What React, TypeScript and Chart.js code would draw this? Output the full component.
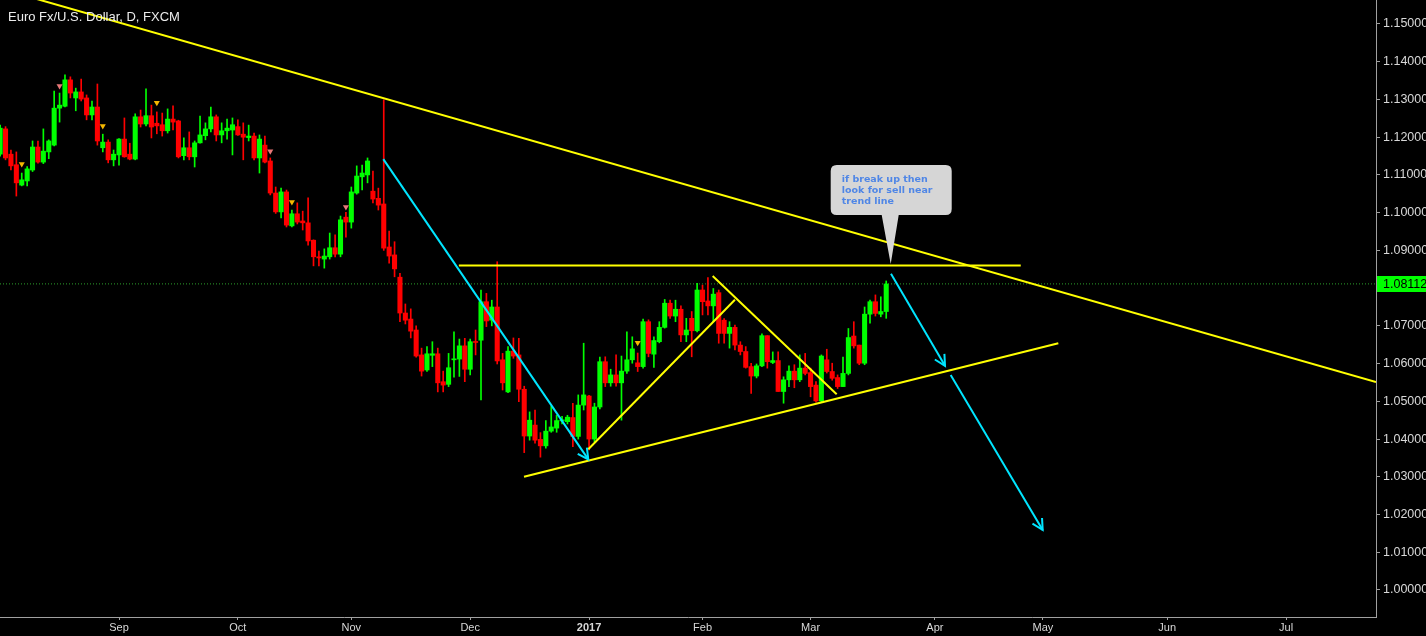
import React, { useEffect, useRef } from 'react';
import { Chart, registerables } from 'chart.js';

Chart.register(...registerables);

// ---- Data (daily EUR/USD candles, index = trading-day position; bar 0 = 1 Aug 2016) ----
const FIRST_BAR = 1;
const OPEN = [
  1.1155, 1.1222, 1.1155, 1.1127, 1.1073, 1.1084, 1.1113, 1.1174, 1.1134, 1.1161,
  1.1179, 1.1277, 1.1282, 1.1352, 1.1304, 1.1320, 1.1304, 1.1259, 1.1280, 1.1172,
  1.1187, 1.1140, 1.1153, 1.1195, 1.1155, 1.1142, 1.1254, 1.1235, 1.1257, 1.1237,
  1.1233, 1.1217, 1.1248, 1.1243, 1.1151, 1.1172, 1.1148, 1.1185, 1.1204, 1.1222,
  1.1254, 1.1206, 1.1217, 1.1219, 1.1228, 1.1208, 1.1199, 1.1203, 1.1145, 1.1179,
  1.1137, 1.1052, 1.1002, 1.1055, 1.0965, 1.0997, 1.0978, 1.0973, 1.0927, 1.0883,
  1.0877, 1.0883, 1.0907, 1.0890, 1.0988, 1.0975, 1.1052, 1.1095, 1.1100, 1.1057,
  1.1038, 1.1023, 1.0909, 1.0888, 1.0829, 1.0734, 1.0718, 1.0689, 1.0623, 1.0583,
  1.0622, 1.0626, 1.0552, 1.0545, 1.0610, 1.0612, 1.0647, 1.0585, 1.0658, 1.0662,
  1.0764, 1.0715, 1.0750, 1.0610, 1.0525, 1.0633, 1.0623, 1.0532, 1.0408, 1.0437,
  1.0399, 1.0382, 1.0421, 1.0429, 1.0448, 1.0446, 1.0457, 1.0407, 1.0490, 1.0514,
  1.0400, 1.0485, 1.0605, 1.0549, 1.0570, 1.0549, 1.0580, 1.0610, 1.0602, 1.0592,
  1.0711, 1.0625, 1.0658, 1.0696, 1.0760, 1.0726, 1.0744, 1.0676, 1.0720, 1.0687,
  1.0795, 1.0766, 1.0753, 1.0788, 1.0715, 1.0680, 1.0696, 1.0649, 1.0632, 1.0592,
  1.0567, 1.0594, 1.0674, 1.0603, 1.0608, 1.0526, 1.0557, 1.0580, 1.0557, 1.0588,
  1.0576, 1.0543, 1.0501, 1.0610, 1.0579, 1.0563, 1.0539, 1.0574, 1.0673, 1.0649,
  1.0601, 1.0731, 1.0764, 1.0731, 1.0738,
];
const HIGH = [
  1.1232, 1.1228, 1.1166, 1.1161, 1.1105, 1.1122, 1.1190, 1.1190, 1.1222, 1.1193,
  1.1322, 1.1317, 1.1365, 1.1360, 1.1330, 1.1354, 1.1312, 1.1296, 1.1341, 1.1208,
  1.1193, 1.1166, 1.1196, 1.1251, 1.1184, 1.1262, 1.1272, 1.1328, 1.1285, 1.1267,
  1.1264, 1.1275, 1.1283, 1.1245, 1.1198, 1.1214, 1.1190, 1.1256, 1.1238, 1.1280,
  1.1259, 1.1238, 1.1248, 1.1251, 1.1246, 1.1238, 1.1232, 1.1211, 1.1206, 1.1203,
  1.1145, 1.1068, 1.1065, 1.1060, 1.1007, 1.1026, 1.1004, 1.1039, 1.0928, 1.0898,
  1.0904, 1.0946, 1.0941, 1.0991, 1.1001, 1.1068, 1.1124, 1.1126, 1.1145, 1.1110,
  1.1065, 1.1299, 1.0951, 1.0923, 1.0839, 1.0758, 1.0745, 1.0700, 1.0641, 1.0645,
  1.0658, 1.0641, 1.0580, 1.0627, 1.0684, 1.0665, 1.0667, 1.0665, 1.0689, 1.0795,
  1.0786, 1.0768, 1.0870, 1.0627, 1.0645, 1.0668, 1.0667, 1.0540, 1.0472, 1.0477,
  1.0417, 1.0449, 1.0487, 1.0463, 1.0460, 1.0463, 1.0495, 1.0517, 1.0654, 1.0516,
  1.0495, 1.0617, 1.0618, 1.0585, 1.0623, 1.0620, 1.0684, 1.0671, 1.0628, 1.0718,
  1.0716, 1.0671, 1.0711, 1.0770, 1.0768, 1.0768, 1.0753, 1.0720, 1.0738, 1.0813,
  1.0808, 1.0828, 1.0799, 1.0795, 1.0719, 1.0711, 1.0702, 1.0658, 1.0645, 1.0601,
  1.0599, 1.0679, 1.0674, 1.0631, 1.0631, 1.0565, 1.0594, 1.0597, 1.0623, 1.0627,
  1.0588, 1.0552, 1.0623, 1.0638, 1.0601, 1.0570, 1.0617, 1.0693, 1.0711, 1.0649,
  1.0750, 1.0768, 1.0782, 1.0777, 1.0819,
];
const LOW = [
  1.1150, 1.1140, 1.1113, 1.1044, 1.1071, 1.1071, 1.1109, 1.1131, 1.1130, 1.1143,
  1.1177, 1.1240, 1.1280, 1.1304, 1.1270, 1.1296, 1.1246, 1.1246, 1.1179, 1.1161,
  1.1132, 1.1124, 1.1126, 1.1147, 1.1140, 1.1140, 1.1227, 1.1230, 1.1198, 1.1209,
  1.1203, 1.1211, 1.1219, 1.1145, 1.1140, 1.1140, 1.1121, 1.1184, 1.1193, 1.1214,
  1.1190, 1.1185, 1.1195, 1.1153, 1.1205, 1.1140, 1.1190, 1.1140, 1.1105, 1.1132,
  1.1047, 1.0998, 1.0986, 1.0962, 1.0962, 1.0970, 1.0954, 1.0914, 1.0859, 1.0859,
  1.0853, 1.0877, 1.0883, 1.0883, 1.0935, 1.0959, 1.1049, 1.1060, 1.1079, 1.1026,
  1.1007, 1.0900, 1.0866, 1.0830, 1.0711, 1.0705, 1.0668, 1.0617, 1.0567, 1.0579,
  1.0592, 1.0525, 1.0525, 1.0539, 1.0564, 1.0566, 1.0552, 1.0570, 1.0623, 1.0504,
  1.0698, 1.0700, 1.0599, 1.0530, 1.0523, 1.0614, 1.0499, 1.0364, 1.0397, 1.0389,
  1.0352, 1.0376, 1.0418, 1.0418, 1.0440, 1.0440, 1.0380, 1.0400, 1.0477, 1.0371,
  1.0393, 1.0480, 1.0539, 1.0540, 1.0540, 1.0450, 1.0574, 1.0601, 1.0579, 1.0588,
  1.0618, 1.0590, 1.0655, 1.0694, 1.0720, 1.0711, 1.0658, 1.0658, 1.0618, 1.0684,
  1.0729, 1.0729, 1.0711, 1.0654, 1.0654, 1.0641, 1.0636, 1.0623, 1.0588, 1.0521,
  1.0562, 1.0592, 1.0588, 1.0600, 1.0526, 1.0495, 1.0539, 1.0536, 1.0552, 1.0570,
  1.0512, 1.0498, 1.0498, 1.0575, 1.0556, 1.0534, 1.0539, 1.0570, 1.0641, 1.0597,
  1.0597, 1.0707, 1.0726, 1.0724, 1.0720,
];
const CLOSE = [
  1.1224, 1.1145, 1.1124, 1.1079, 1.1087, 1.1116, 1.1174, 1.1134, 1.1163, 1.1190,
  1.1277, 1.1285, 1.1352, 1.1317, 1.1320, 1.1301, 1.1259, 1.1280, 1.1190, 1.1187,
  1.1140, 1.1155, 1.1195, 1.1148, 1.1142, 1.1254, 1.1235, 1.1257, 1.1227, 1.1230,
  1.1217, 1.1248, 1.1240, 1.1148, 1.1172, 1.1148, 1.1185, 1.1206, 1.1222, 1.1254,
  1.1206, 1.1217, 1.1224, 1.1233, 1.1206, 1.1200, 1.1203, 1.1145, 1.1195, 1.1134,
  1.1052, 1.1002, 1.1055, 1.0967, 1.0997, 1.0975, 1.0973, 1.0925, 1.0883, 1.0880,
  1.0885, 1.0907, 1.0890, 1.0981, 1.0975, 1.1055, 1.1097, 1.1105, 1.1137, 1.1036,
  1.1020, 1.0906, 1.0885, 1.0851, 1.0734, 1.0715, 1.0686, 1.0620, 1.0580, 1.0626,
  1.0626, 1.0549, 1.0543, 1.0589, 1.0612, 1.0647, 1.0585, 1.0658, 1.0656, 1.0764,
  1.0713, 1.0750, 1.0607, 1.0549, 1.0633, 1.0620, 1.0532, 1.0408, 1.0450, 1.0397,
  1.0382, 1.0421, 1.0432, 1.0449, 1.0451, 1.0458, 1.0407, 1.0490, 1.0517, 1.0400,
  1.0485, 1.0605, 1.0549, 1.0570, 1.0549, 1.0580, 1.0610, 1.0639, 1.0592, 1.0711,
  1.0627, 1.0661, 1.0696, 1.0760, 1.0726, 1.0744, 1.0676, 1.0689, 1.0687, 1.0795,
  1.0764, 1.0753, 1.0784, 1.0680, 1.0680, 1.0696, 1.0649, 1.0632, 1.0590, 1.0567,
  1.0594, 1.0674, 1.0605, 1.0608, 1.0526, 1.0557, 1.0580, 1.0557, 1.0588, 1.0574,
  1.0539, 1.0501, 1.0620, 1.0579, 1.0561, 1.0539, 1.0574, 1.0669, 1.0647, 1.0601,
  1.0731, 1.0764, 1.0733, 1.0738, 1.0811,
];

// indicator triangles (bar index, price)
const YELLOW_MARK_X = [5, 20, 30, 55, 119];
const YELLOW_MARK_Y = [1.1129, 1.1230, 1.1291, 1.1028, 1.0655];
const PINK_MARK_X = [12, 51, 65];
const PINK_MARK_Y = [1.1336, 1.1163, 1.1015];

// axis ticks
const X_TICK_POS = [23, 45, 66, 88, 110, 131, 151, 174, 194, 217, 239];
const X_TICK_LABELS = ['Sep', 'Oct', 'Nov', 'Dec', '2017', 'Feb', 'Mar', 'Apr', 'May', 'Jun', 'Jul'];
const Y_TICKS = [1.0, 1.01, 1.02, 1.03, 1.04, 1.05, 1.06, 1.07, 1.08, 1.09, 1.1, 1.11, 1.12, 1.13, 1.14, 1.15];
const X_RANGE = [0.975, 255.65];
const Y_RANGE = [0.99284, 1.15636];
const LAST_PRICE = 1.08112;

// drawings (bar index, price)
const LONG_TREND_X = [1, 255.65];
const LONG_TREND_Y = [1.1594, 1.0551];
const NECK_X = [85.9, 189.9];
const NECK_Y = [1.086, 1.086];
const SUPPORT_X = [97.96, 196.85];
const SUPPORT_Y = [1.03, 1.0654];
const RISE_X = [109.86, 137.0];
const RISE_Y = [1.0373, 1.0769];
const FALL_X = [132.88, 155.83];
const FALL_Y = [1.0832, 1.0519];
const ARROW1_X = [71.92, 109.86];
const ARROW1_Y = [1.1142, 1.0346];
const ARROW2_X = [165.88, 175.88];
const ARROW2_Y = [1.0838, 1.0594];
const ARROW3_X = [176.93, 193.96];
const ARROW3_Y = [1.057, 1.0159];
const NOTE_X = 165.83;
const NOTE_Y = 1.0864;
const NOTE_LINES = ['if break up then', 'look for sell near', 'trend line'];
const TITLE = 'Euro Fx/U.S. Dollar, D, FXCM';

const UP = '#00ff00';
const DOWN = '#ff0000';
const YELLOW = '#ffff00';
const CYAN = '#00e5ff';
const AXIS = '#a0a0a0';
const TEXT = '#d8d8d8';
const FONT = "'Liberation Sans', Arial, sans-serif";

const pts = (xs: number[], ys: number[]) => xs.map((x, i) => ({ x, y: ys[i] }));

const overlay = {
  id: 'overlay',
  afterDatasetsDraw(chart: any) {
    const ctx = chart.ctx;
    const xs = chart.scales.x;
    const ys = chart.scales.y;
    // arrow heads
    chart.data.datasets.forEach((ds: any) => {
      if (!ds.arrow) return;
      const d = ds.data;
      const a = d[d.length - 2];
      const b = d[d.length - 1];
      const ax = xs.getPixelForValue(a.x), ay = ys.getPixelForValue(a.y);
      const bx = xs.getPixelForValue(b.x), by = ys.getPixelForValue(b.y);
      const ang = Math.atan2(ay - by, ax - bx);
      const len = 12;
      ctx.save();
      ctx.strokeStyle = ds.borderColor;
      ctx.lineWidth = 2;
      ctx.beginPath();
      ctx.moveTo(bx + len * Math.cos(ang - 0.48), by + len * Math.sin(ang - 0.48));
      ctx.lineTo(bx, by);
      ctx.lineTo(bx + len * Math.cos(ang + 0.48), by + len * Math.sin(ang + 0.48));
      ctx.stroke();
      ctx.restore();
    });
    // callout
    const tx = xs.getPixelForValue(NOTE_X);
    const ty = ys.getPixelForValue(NOTE_Y);
    const left = tx - 60, right = tx + 61, top = ty - 99, bottom = ty - 49, r = 6;
    ctx.save();
    ctx.fillStyle = '#d6d6d6';
    ctx.beginPath();
    ctx.moveTo(left + r, top);
    ctx.lineTo(right - r, top);
    ctx.quadraticCurveTo(right, top, right, top + r);
    ctx.lineTo(right, bottom - r);
    ctx.quadraticCurveTo(right, bottom, right - r, bottom);
    ctx.lineTo(tx + 8, bottom);
    ctx.lineTo(tx, ty);
    ctx.lineTo(tx - 9, bottom);
    ctx.lineTo(left + r, bottom);
    ctx.quadraticCurveTo(left, bottom, left, bottom - r);
    ctx.lineTo(left, top + r);
    ctx.quadraticCurveTo(left, top, left + r, top);
    ctx.closePath();
    ctx.fill();
    ctx.fillStyle = '#4f86e6';
    ctx.font = "bold 9.5px 'DejaVu Sans', Verdana, sans-serif";
    ctx.textBaseline = 'alphabetic';
    ctx.textAlign = 'left';
    NOTE_LINES.forEach((t, i) => ctx.fillText(t, left + 11, top + 17 + i * 11));
    ctx.restore();
  },
  afterDraw(chart: any) {
    const ctx = chart.ctx;
    const ys = chart.scales.y;
    const area = chart.chartArea;
    const py = ys.getPixelForValue(LAST_PRICE);
    ctx.save();
    ctx.fillStyle = '#00ff00';
    ctx.fillRect(area.right + 1, Math.round(py) - 8, 60, 16);
    ctx.fillStyle = '#000000';
    ctx.font = `12.5px ${FONT}`;
    ctx.textBaseline = 'middle';
    ctx.textAlign = 'left';
    ctx.fillText(LAST_PRICE.toFixed(5), area.right + 7, Math.round(py) + 0.5);
    ctx.fillStyle = '#ececec';
    ctx.font = `13px ${FONT}`;
    ctx.textBaseline = 'alphabetic';
    ctx.fillText(TITLE, 8, 21);
    ctx.restore();
  },
};

export default function App() {
  const ref = useRef<HTMLCanvasElement | null>(null);
  useEffect(() => {
    if (!ref.current) return;
    const idx = OPEN.map((_, i) => i + FIRST_BAR);
    const colors = OPEN.map((o, i) => (CLOSE[i] >= o ? UP : DOWN));
    const lineDs = (label: string, xs: number[], ys: number[], color: string, extra: any = {}) => ({
      type: 'line',
      label,
      data: pts(xs, ys),
      borderColor: color,
      borderWidth: 2,
      pointRadius: 0,
      fill: false,
      tension: 0,
      order: 1,
      ...extra,
    });
    const chart = new Chart(ref.current, {
      type: 'bar',
      data: {
        datasets: [
          {
            type: 'line',
            label: 'last',
            data: pts(X_RANGE, [LAST_PRICE, LAST_PRICE]),
            borderColor: '#2ca02c',
            borderWidth: 1,
            borderDash: [1, 2],
            pointRadius: 0,
            order: 10,
          },
          {
            type: 'bar',
            label: 'wick',
            data: idx.map((x, i) => ({ x, y: [LOW[i], HIGH[i]] })),
            backgroundColor: colors,
            barThickness: 1,
            grouped: false,
            minBarLength: 1,
            order: 6,
          },
          {
            type: 'bar',
            label: 'body',
            data: idx.map((x, i) => ({ x, y: [OPEN[i], CLOSE[i]] })),
            backgroundColor: colors,
            barThickness: 4.4,
            grouped: false,
            minBarLength: 1,
            order: 5,
          },
          {
            type: 'scatter',
            label: 'ymark',
            data: pts(YELLOW_MARK_X, YELLOW_MARK_Y),
            pointStyle: 'triangle',
            rotation: 180,
            radius: 3.5,
            hoverRadius: 3.5,
            backgroundColor: '#f5b800',
            borderWidth: 0,
            order: 4,
          },
          {
            type: 'scatter',
            label: 'pmark',
            data: pts(PINK_MARK_X, PINK_MARK_Y),
            pointStyle: 'triangle',
            rotation: 180,
            radius: 3.5,
            hoverRadius: 3.5,
            backgroundColor: '#e87878',
            borderWidth: 0,
            order: 4,
          },
          lineDs('long', LONG_TREND_X, LONG_TREND_Y, YELLOW),
          lineDs('neck', NECK_X, NECK_Y, YELLOW),
          lineDs('support', SUPPORT_X, SUPPORT_Y, YELLOW),
          lineDs('rise', RISE_X, RISE_Y, YELLOW),
          lineDs('fall', FALL_X, FALL_Y, YELLOW),
          lineDs('a1', ARROW1_X, ARROW1_Y, CYAN, { arrow: true, order: 0 }),
          lineDs('a2', ARROW2_X, ARROW2_Y, CYAN, { arrow: true, order: 0 }),
          lineDs('a3', ARROW3_X, ARROW3_Y, CYAN, { arrow: true, order: 0 }),
        ] as any,
      },
      options: {
        animation: false,
        responsive: false,
        events: [],
        layout: { padding: 0, autoPadding: false },
        plugins: { legend: { display: false }, tooltip: { enabled: false }, title: { display: false } },
        scales: {
          x: {
            type: 'linear',
            min: X_RANGE[0],
            max: X_RANGE[1],
            offset: false,
            afterBuildTicks: (s: any) => {
              s.ticks = X_TICK_POS.map((v) => ({ value: v }));
            },
            afterFit: (s: any) => {
              s.height = 19;
              s.paddingLeft = 0;
              s.paddingRight = 0;
            },
            ticks: {
              autoSkip: false,
              maxRotation: 0,
              padding: 1,
              color: TEXT,
              font: (c: any) => ({ family: FONT, size: 11, weight: c.index === 4 ? 'bold' : 'normal' }),
              callback: (_v: any, i: number) => X_TICK_LABELS[i],
            },
            grid: { drawOnChartArea: false, drawTicks: true, tickLength: 3, color: AXIS, offset: false },
            border: { display: true, color: AXIS, width: 1 },
          },
          y: {
            type: 'linear',
            position: 'right',
            min: Y_RANGE[0],
            max: Y_RANGE[1],
            afterBuildTicks: (s: any) => {
              s.ticks = Y_TICKS.map((v) => ({ value: v }));
            },
            afterFit: (s: any) => {
              s.width = 50;
              s.paddingTop = 0;
              s.paddingBottom = 0;
            },
            ticks: {
              padding: 3,
              color: TEXT,
              font: { family: FONT, size: 12.5 },
              callback: (v: any) => Number(v).toFixed(5),
            },
            grid: { drawOnChartArea: false, drawTicks: true, tickLength: 4, color: AXIS },
            border: { display: true, color: AXIS, width: 1 },
          },
        },
      } as any,
      plugins: [overlay],
    });
    return () => chart.destroy();
  }, []);
  return (
    <canvas
      ref={ref}
      width={1426}
      height={636}
      style={{ position: 'absolute', left: 0, top: 0, width: 1426, height: 636, background: '#000', display: 'block' }}
    />
  );
}
